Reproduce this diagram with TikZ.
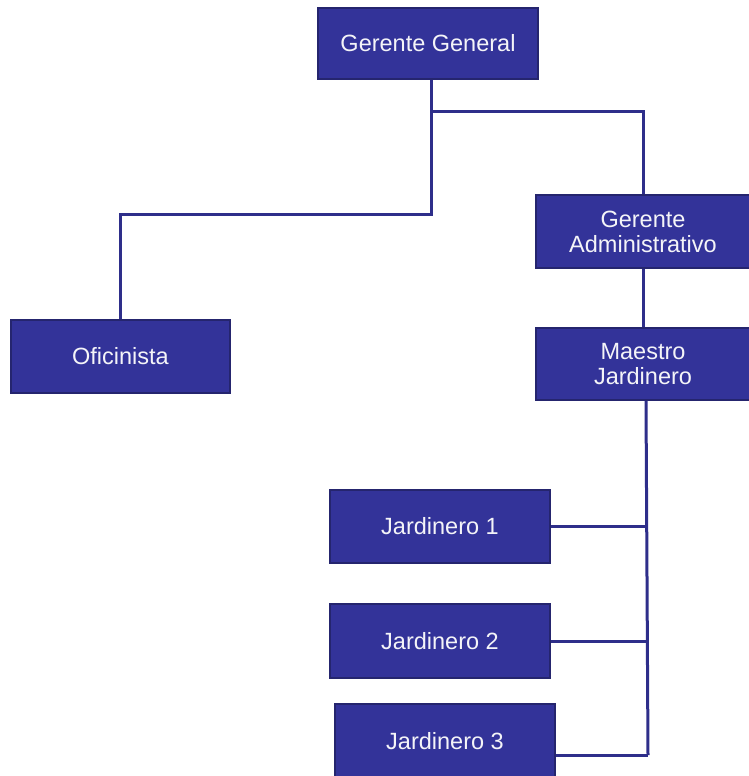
\documentclass[tikz,border=0pt]{standalone}
\usepackage{fontspec}
\setmainfont{Liberation Sans}
\definecolor{boxfill}{HTML}{333399}
\definecolor{boxline}{HTML}{25256E}
\definecolor{wire}{HTML}{2E2E8A}
\definecolor{boxtext}{HTML}{F4F4F8}
\begin{document}
\begin{tikzpicture}[x=1pt,y=-1pt,
  box/.style={rectangle,draw=boxline,line width=1.5pt,fill=boxfill,text=boxtext,
    font=\fontsize{23.5}{25}\selectfont,align=center,inner sep=0pt},
  wirestyle/.style={draw=wire,line width=3pt}]
\useasboundingbox (0,0) rectangle (748,776);
\node[box,minimum width=220,minimum height=71] (GG) at (428,43.5) {Gerente General};
\node[box,minimum width=219,minimum height=73] (OF) at (120.5,356.5) {Oficinista};
\node[box,minimum width=214,minimum height=73] (GA) at (643,231.5) {Gerente\\Administrativo};
\node[box,minimum width=214,minimum height=72] (MJ) at (643,364) {Maestro\\Jardinero};
\node[box,minimum width=220,minimum height=73] (J1) at (440,526.5) {Jardinero 1};
\node[box,minimum width=220,minimum height=74] (J2) at (440,641) {Jardinero 2};
\node[box,minimum width=220,minimum height=74] (J3) at (445,741) {Jardinero 3};
\coordinate (ja) at (431,111);
\coordinate (jb) at (431,214);
\coordinate (bus) at (648,755);
\draw[wirestyle] (GG.south -| ja) -- (jb) -| (OF.north);
\draw[wirestyle] (ja) -| (GA.north);
\draw[wirestyle] (GA.south) -- (MJ.north);
\draw[wirestyle] ([xshift=3]MJ.south) -- (bus);
\draw[wirestyle] (J1.east) -- (J1.east -| bus);
\draw[wirestyle] (J2.east) -- (J2.east -| bus);
\draw[wirestyle] (J3.east |- bus) -- (bus);
\end{tikzpicture}
\end{document}
